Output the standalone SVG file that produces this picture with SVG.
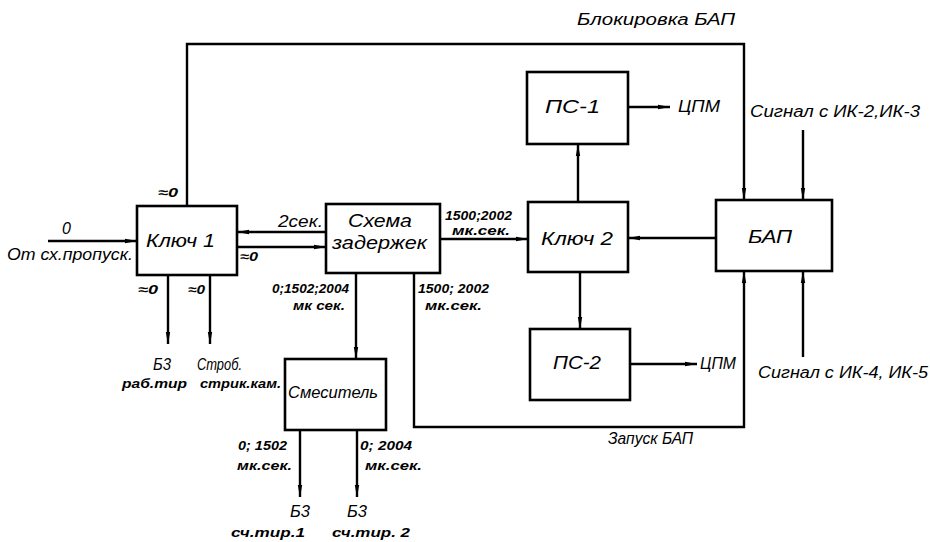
<svg xmlns="http://www.w3.org/2000/svg" width="930" height="542" viewBox="0 0 930 542">
<style>
.box{fill:#fff;stroke:#000;stroke-width:2.6}
.ln{fill:none;stroke:#000;stroke-width:2.4}
.arr{marker-end:url(#ah)}
text{font-family:"Liberation Sans","DejaVu Sans",sans-serif;font-style:italic;fill:#000}
.big{font-size:18px}
.mid{font-size:16px}
.sm{font-size:13px;font-weight:bold}
</style>
<defs>
<marker id="ah" viewBox="0 0 12 6" refX="12" refY="3" markerWidth="12" markerHeight="6" markerUnits="userSpaceOnUse" orient="auto">
<path d="M0,0.8 L12,3 L0,5.2 Z" fill="#000"/>
</marker>
</defs>
<rect width="930" height="542" fill="#fff"/>
<g id="connectors">
<path class="ln arr" d="M48,241 L137,241"/>
<path class="ln arr" d="M187,206 L187,44 L744,44 L744,200"/>
<path class="ln arr" d="M326,232 L237,232"/>
<path class="ln arr" d="M237,247 L326,247"/>
<path class="ln arr" d="M168,275 L168,344"/>
<path class="ln arr" d="M210,275 L210,344"/>
<path class="ln arr" d="M440,239 L528,239"/>
<path class="ln arr" d="M356,273 L356,359"/>
<path class="ln arr" d="M414,273 L414,427 L744,427 L744,271"/>
<path class="ln arr" d="M300,430 L300,497"/>
<path class="ln arr" d="M357,430 L357,497"/>
<path class="ln arr" d="M578,202 L578,144"/>
<path class="ln arr" d="M580,272 L580,329"/>
<path class="ln arr" d="M628,107 L670,107"/>
<path class="ln arr" d="M630,364 L697,364"/>
<path class="ln arr" d="M716,238 L628,238"/>
<path class="ln arr" d="M803,130 L803,200"/>
<path class="ln arr" d="M803,357 L803,271"/>
</g>
<g id="kluch1">
<rect class="box" x="137" y="206" width="100" height="69"/>
<text class="big" x="146" y="247" textLength="69" lengthAdjust="spacingAndGlyphs">Ключ 1</text>
</g>
<g id="shema">
<rect class="box" x="326" y="204" width="114" height="69"/>
<text class="big" x="348" y="227" textLength="64" lengthAdjust="spacingAndGlyphs">Схема</text>
<text class="big" x="332" y="249" textLength="95" lengthAdjust="spacingAndGlyphs">задержек</text>
</g>
<g id="smesitel">
<rect class="box" x="285" y="359" width="101" height="71"/>
<text class="mid" x="288" y="398" textLength="90" lengthAdjust="spacingAndGlyphs">Смеситель</text>
</g>
<g id="kluch2">
<rect class="box" x="528" y="202" width="100" height="70"/>
<text class="big" x="541" y="245" textLength="72" lengthAdjust="spacingAndGlyphs">Ключ 2</text>
</g>
<g id="ps1">
<rect class="box" x="527" y="72" width="101" height="72"/>
<text class="big" x="545" y="113" textLength="55" lengthAdjust="spacingAndGlyphs">ПС-1</text>
</g>
<g id="ps2">
<rect class="box" x="530" y="329" width="100" height="71"/>
<text class="big" x="553" y="369" textLength="48" lengthAdjust="spacingAndGlyphs">ПС-2</text>
</g>
<g id="bap">
<rect class="box" x="716" y="200" width="116" height="71"/>
<text class="big" x="748" y="243" textLength="44" lengthAdjust="spacingAndGlyphs">БАП</text>
</g>
<g id="labels">
<text class="mid" x="62" y="234">0</text>
<text class="mid" x="7" y="260" textLength="126" lengthAdjust="spacingAndGlyphs">От сх.пропуск.</text>
<text class="sm" x="158" y="197" textLength="20" lengthAdjust="spacingAndGlyphs">≈0</text>
<text class="mid" x="278" y="227" textLength="45" lengthAdjust="spacingAndGlyphs">2сек.</text>
<text class="sm" x="240" y="261" textLength="18" lengthAdjust="spacingAndGlyphs">≈0</text>
<text class="sm" x="138" y="294" textLength="20" lengthAdjust="spacingAndGlyphs">≈0</text>
<text class="sm" x="188" y="294" textLength="17" lengthAdjust="spacingAndGlyphs">≈0</text>
<text class="mid" x="153" y="370" textLength="18" lengthAdjust="spacingAndGlyphs">Б3</text>
<text class="sm" x="122" y="388" textLength="65" lengthAdjust="spacingAndGlyphs">раб.тир</text>
<text class="mid" x="197" y="370" textLength="45" lengthAdjust="spacingAndGlyphs">Строб.</text>
<text class="sm" x="200" y="388" textLength="81" lengthAdjust="spacingAndGlyphs">стрик.кам.</text>
<text class="sm" x="445" y="220" textLength="67" lengthAdjust="spacingAndGlyphs">1500;2002</text>
<text class="sm" x="452" y="235" textLength="58" lengthAdjust="spacingAndGlyphs">мк.сек.</text>
<text class="sm" x="272" y="293" textLength="77" lengthAdjust="spacingAndGlyphs">0;1502;2004</text>
<text class="sm" x="293" y="310" textLength="52" lengthAdjust="spacingAndGlyphs">мк сек.</text>
<text class="sm" x="418" y="293" textLength="71" lengthAdjust="spacingAndGlyphs">1500; 2002</text>
<text class="sm" x="425" y="310" textLength="57" lengthAdjust="spacingAndGlyphs">мк.сек.</text>
<text class="sm" x="238" y="450" textLength="49" lengthAdjust="spacingAndGlyphs">0; 1502</text>
<text class="sm" x="237" y="470" textLength="55" lengthAdjust="spacingAndGlyphs">мк.сек.</text>
<text class="sm" x="360" y="450" textLength="52" lengthAdjust="spacingAndGlyphs">0; 2004</text>
<text class="sm" x="365" y="470" textLength="57" lengthAdjust="spacingAndGlyphs">мк.сек.</text>
<text class="mid" x="290" y="517" textLength="20" lengthAdjust="spacingAndGlyphs">Б3</text>
<text class="mid" x="347" y="517" textLength="20" lengthAdjust="spacingAndGlyphs">Б3</text>
<text class="sm" x="231" y="537" textLength="74" lengthAdjust="spacingAndGlyphs">сч.тир.1</text>
<text class="sm" x="332" y="537" textLength="78" lengthAdjust="spacingAndGlyphs">сч.тир. 2</text>
<text class="mid" x="678" y="112" textLength="42" lengthAdjust="spacingAndGlyphs">ЦПМ</text>
<text class="mid" x="700" y="369" textLength="36" lengthAdjust="spacingAndGlyphs">ЦПМ</text>
<text class="mid" x="577" y="25" textLength="158" lengthAdjust="spacingAndGlyphs">Блокировка БАП</text>
<text class="mid" x="608" y="444" font-size="15" textLength="85" lengthAdjust="spacingAndGlyphs">Запуск БАП</text>
<text class="mid" x="750" y="117" textLength="170" lengthAdjust="spacingAndGlyphs">Сигнал с ИК-2,ИК-3</text>
<text class="mid" x="758" y="378" textLength="170" lengthAdjust="spacingAndGlyphs">Сигнал с ИК-4, ИК-5</text>
</g>
</svg>
